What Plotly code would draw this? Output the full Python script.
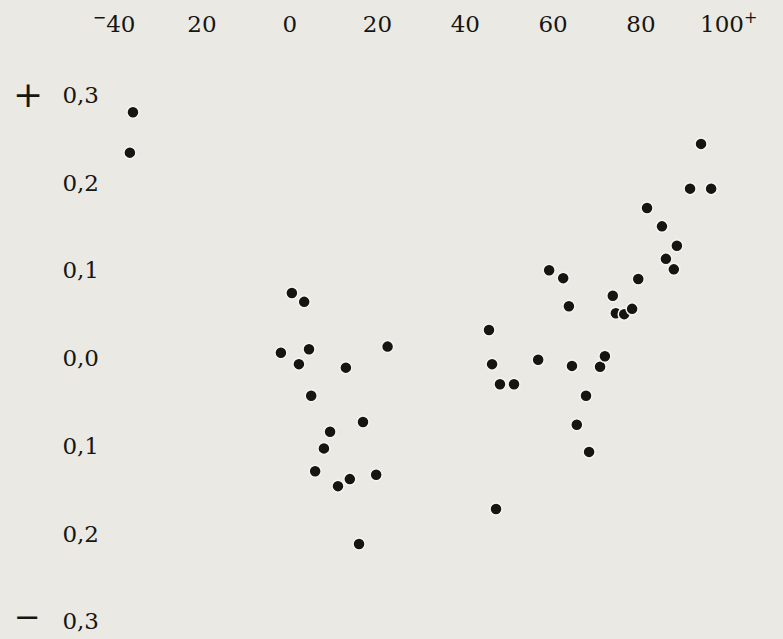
import plotly.graph_objects as go

# Data
x_vals = [-35.7, -36.4, 0.5, 3.3, -2.0, 4.4, 2.1, 4.9, 12.8, 22.3,
          16.7, 9.2, 7.8, 5.8, 11.0, 13.7, 19.7, 15.8,
          45.4, 46.1, 47.9, 51.1, 47.0, 56.6, 59.1, 62.3, 63.6, 64.3,
          67.5, 65.4, 68.2, 70.7, 71.8, 73.6, 74.3, 76.2, 78.0, 79.4,
          81.4, 84.8, 88.2, 85.7, 87.5, 91.2, 93.7, 96.0]
y_vals = [0.280, 0.234, 0.074, 0.064, 0.006, 0.010, -0.007, -0.043, -0.011, 0.013,
          -0.073, -0.084, -0.103, -0.129, -0.146, -0.138, -0.133, -0.212,
          0.032, -0.007, -0.030, -0.030, -0.172, -0.002, 0.100, 0.091, 0.059, -0.009,
          -0.043, -0.076, -0.107, -0.010, 0.002, 0.071, 0.051, 0.050, 0.056, 0.090,
          0.171, 0.150, 0.128, 0.113, 0.101, 0.193, 0.244, 0.193]

x_tickvals = [-40, -20, 0, 20, 40, 60, 80, 100]
x_ticktext = ["<sup>−</sup>40", "20", "0", "20", "40", "60", "80", "100<sup>+</sup>"]
y_tickvals = [0.3, 0.2, 0.1, 0.0, -0.1, -0.2, -0.3]
y_ticktext = ["0,3", "0,2", "0,1", "0,0", "0,1", "0,2", "0,3"]

bg = "#eae9e4"
ink = "#151612"
font_family = "DejaVu Serif"

fig = go.Figure()
fig.add_trace(go.Scatter(
    x=x_vals, y=y_vals, mode="markers",
    marker=dict(size=12, color=ink, line=dict(color="#f6f5f1", width=1.5)),
    hoverinfo="skip", showlegend=False,
))

fig.update_layout(
    width=783, height=639,
    margin=dict(l=105, r=0, t=42, b=0, autoexpand=False),
    paper_bgcolor=bg, plot_bgcolor=bg,
    font=dict(family=font_family, size=23, color=ink),
    xaxis=dict(range=[-42.07, 112.37], side="top", tickvals=x_tickvals,
               ticktext=x_ticktext, showgrid=False, zeroline=False,
               showline=False, ticks="", ticklabelstandoff=4,
               automargin=False),
    yaxis=dict(range=[-0.3202, 0.3601], tickvals=y_tickvals,
               ticktext=y_ticktext, showgrid=False, zeroline=False,
               showline=False, ticks="", ticklabelstandoff=5,
               automargin=False),
    annotations=[
        dict(text="+", xref="paper", yref="y", x=-0.114, y=0.3,
             showarrow=False, font=dict(size=36, family=font_family, color=ink),
             xanchor="center", yanchor="middle"),
        dict(text="−", xref="paper", yref="y", x=-0.114, y=-0.3,
             showarrow=False, font=dict(size=32, family=font_family, color=ink),
             xanchor="center", yanchor="middle", yshift=4),
    ],
)

fig.write_html("out.html",
               config={"displayModeBar": False, "staticPlot": True},
               post_script="document.body.style.margin='0';document.body.style.background='%s';" % bg)
